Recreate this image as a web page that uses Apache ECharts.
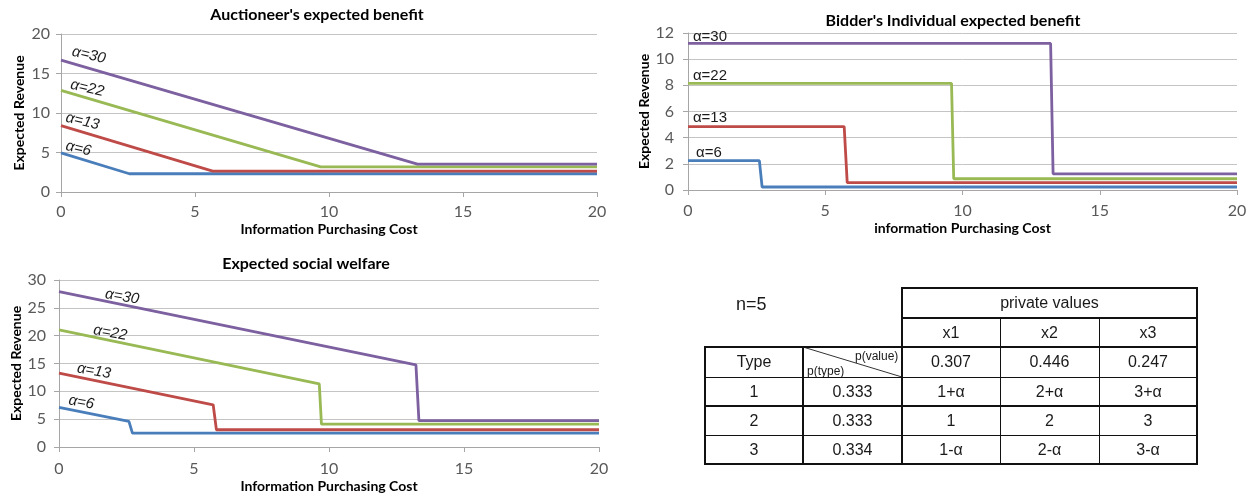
<!DOCTYPE html>
<html>
<head>
<meta charset="utf-8">
<script src="https://cdn.jsdelivr.net/npm/echarts@6/dist/echarts.min.js"></script>
<style>
html,body{margin:0;padding:0;background:#fff;}
#chart{position:absolute;left:0;top:0;width:1258px;height:496px;}
#tbl{position:absolute;left:0;top:0;width:1258px;height:496px;pointer-events:none;font-family:'Liberation Sans',Arial,sans-serif;color:#1a1a1a;}
.cell{position:absolute;display:flex;align-items:center;justify-content:center;font-size:16px;}
.hl{position:absolute;background:#111;}
</style>
</head>
<body>
<div id="chart"></div>
<div id="tbl"></div>
<script>
// ---------- data ----------
const alphaNames = ['α=6', 'α=13', 'α=22', 'α=30'];
const xTicks = [0, 5, 10, 15, 20];

// Auctioneer's expected benefit  [cost, revenue]
const aucA6  = [[0, 4.96], [2.55, 2.31], [20, 2.31]];
const aucA13 = [[0, 8.4], [5.66, 2.65], [20, 2.65]];
const aucA22 = [[0, 12.86], [9.69, 3.19], [20, 3.19]];
const aucA30 = [[0, 16.7], [13.3, 3.53], [20, 3.53]];

// Bidder's individual expected benefit
const bidA6  = [[0, 2.25], [2.6, 2.25], [2.7, 0.23], [20, 0.23]];
const bidA13 = [[0, 4.84], [5.69, 4.84], [5.8, 0.56], [20, 0.56]];
const bidA22 = [[0, 8.15], [9.6, 8.15], [9.68, 0.86], [20, 0.86]];
const bidA30 = [[0, 11.2], [13.21, 11.2], [13.3, 1.24], [20, 1.24]];

// Expected social welfare
const socA6  = [[0, 7.1], [2.59, 4.6], [2.72, 2.5], [20, 2.5]];
const socA13 = [[0, 13.27], [5.71, 7.58], [5.83, 3.1], [20, 3.1]];
const socA22 = [[0, 21.03], [9.64, 11.35], [9.72, 4.12], [20, 4.12]];
const socA30 = [[0, 27.9], [13.22, 14.75], [13.33, 4.75], [20, 4.75]];

// Table
const nLabel = 'n=5';
const pvHeader = 'private values';
const valueCols = ['x1', 'x2', 'x3'];
const pValues = ['0.307', '0.446', '0.247'];
const typeHeader = 'Type';
const types = ['1', '2', '3'];
const pTypes = ['0.333', '0.333', '0.334'];
const privateValues = [['1+α', '2+α', '3+α'], ['1', '2', '3'], ['1-α', '2-α', '3-α']];

// ---------- styles ----------
const colors = ['#4A7EBB', '#BE4B48', '#98B954', '#7D60A0'];
const tickFont = {fontFamily: 'Lato', fontSize: 16, color: '#595959'};
const nameFont = {fontFamily: 'Lato', fontWeight: 'bold', fontSize: 14, color: '#000'};
const axisGray = '#a6a6a6';

function xAxis(gi, name, gap, margin) {
  return {
    type: 'value', gridIndex: gi, min: 0, max: 20, interval: 5,
    name: name, nameLocation: 'middle', nameGap: gap, nameTextStyle: nameFont,
    axisLine: {show: true, lineStyle: {color: axisGray, width: 1}},
    axisTick: {show: true, length: 5, lineStyle: {color: axisGray}},
    axisLabel: Object.assign({margin: margin}, tickFont),
    splitLine: {show: false}
  };
}
function yAxis(gi, max, interval, gap, margin) {
  return {
    type: 'value', gridIndex: gi, min: 0, max: max, interval: interval,
    name: 'Expected Revenue', nameLocation: 'middle', nameGap: gap, nameTextStyle: nameFont,
    axisLine: {show: true, lineStyle: {color: axisGray, width: 1}},
    axisTick: {show: true, length: 5, lineStyle: {color: axisGray}},
    axisLabel: Object.assign({margin: margin}, tickFont),
    splitLine: {show: true, lineStyle: {color: '#c4c4c4', width: 1}}
  };
}
function series(data, k, gi, offset, rotate, italic) {
  return {
    type: 'line', xAxisIndex: gi, yAxisIndex: gi, data: data,
    showSymbol: false, animation: false, z: 2 + k,
    lineStyle: {color: colors[k], width: 2.8},
    itemStyle: {color: colors[k]},
    markPoint: {
      silent: true, animation: false,
      symbol: 'rect', symbolSize: 1, itemStyle: {color: 'rgba(0,0,0,0)'},
      data: [{coord: data[0]}],
      label: {
        show: true, position: 'inside', formatter: alphaNames[k],
        offset: offset, rotate: rotate,
        fontFamily: 'Liberation Sans', fontStyle: italic ? 'italic' : 'normal',
        fontSize: 15, color: '#1a1a1a'
      }
    }
  };
}

// label offsets are in the rotated label frame
const topLeftOffsets = [[16, -8], [20, -9], [25, -8], [26, -11]];
const botLeftOffsets = [[21, -9], [34, -8], [51, -6], [63, -6]];
const topRightOffsets = [[21, -8], [22, -9], [22, -8], [22, -7]];

const aucSets = [aucA6, aucA13, aucA22, aucA30];
const bidSets = [bidA6, bidA13, bidA22, bidA30];
const socSets = [socA6, socA13, socA22, socA30];

const allSeries = [];
aucSets.forEach((d, k) => allSeries.push(series(d, k, 0, topLeftOffsets[k], -13, true)));
bidSets.forEach((d, k) => allSeries.push(series(d, k, 1, topRightOffsets[k], 0, false)));
socSets.forEach((d, k) => allSeries.push(series(d, k, 2, botLeftOffsets[k], -10, true)));

const titleStyle = {fontFamily: 'Lato', fontWeight: 'bold', fontSize: 16, color: '#000'};

const option = {
  backgroundColor: '#fff',
  animation: false,
  title: [
    {text: "Auctioneer's expected benefit", left: 317, top: 7, textAlign: 'center', padding: 0, textStyle: titleStyle},
    {text: "Bidder's Individual expected benefit", left: 953, top: 13, textAlign: 'center', padding: 0, textStyle: titleStyle},
    {text: 'Expected social welfare', left: 306, top: 256, textAlign: 'center', padding: 0, textStyle: titleStyle}
  ],
  grid: [
    {left: 61, top: 34, width: 536, height: 158},
    {left: 688, top: 33, width: 549, height: 157},
    {left: 59, top: 280, width: 540, height: 167}
  ],
  xAxis: [
    xAxis(0, 'Information Purchasing Cost', 30, 12),
    xAxis(1, 'information Purchasing Cost', 31, 13),
    xAxis(2, 'Information Purchasing Cost', 32, 14)
  ],
  yAxis: [
    yAxis(0, 20, 5, 35, 11),
    yAxis(1, 12, 2, 28, 14),
    yAxis(2, 30, 5, 34, 13)
  ],
  series: allSeries
};

const chart = echarts.init(document.getElementById('chart'), null, {renderer: 'canvas'});
chart.setOption(option);

// ---------- table (HTML) ----------
const tbl = document.getElementById('tbl');
const colX = [705, 803, 902, 1000, 1099, 1197];
const rowY = [288, 318, 347, 377, 406, 435, 464];
function cell(txt, c0, c1, r, extra) {
  const d = document.createElement('div');
  d.className = 'cell';
  d.style.left = colX[c0] + 'px';
  d.style.width = (colX[c1] - colX[c0]) + 'px';
  d.style.top = rowY[r] + 'px';
  d.style.height = (rowY[r + 1] - rowY[r]) + 'px';
  if (extra) Object.assign(d.style, extra);
  d.textContent = txt;
  tbl.appendChild(d);
}
function hline(y, x0, x1, w) {
  const d = document.createElement('div'); d.className = 'hl';
  d.style.left = (x0 - 1) + 'px'; d.style.width = (x1 - x0 + 2) + 'px';
  d.style.top = (y - Math.floor(w / 2)) + 'px'; d.style.height = w + 'px';
  tbl.appendChild(d);
}
function vline(x, y0, y1, w) {
  const d = document.createElement('div'); d.className = 'hl';
  d.style.top = (y0 - 1) + 'px'; d.style.height = (y1 - y0 + 2) + 'px';
  d.style.left = (x - Math.floor(w / 2)) + 'px'; d.style.width = w + 'px';
  tbl.appendChild(d);
}
// text
const n = document.createElement('div');
n.style.cssText = 'position:absolute;left:736px;top:294px;font-size:18px;';
n.textContent = nLabel; tbl.appendChild(n);
cell(pvHeader, 2, 5, 0);
valueCols.forEach((t, i) => cell(t, 2 + i, 3 + i, 1));
cell(typeHeader, 0, 1, 2);
pValues.forEach((t, i) => cell(t, 2 + i, 3 + i, 2));
types.forEach((t, r) => {
  cell(t, 0, 1, 3 + r);
  cell(pTypes[r], 1, 2, 3 + r);
  privateValues[r].forEach((v, i) => cell(v, 2 + i, 3 + i, 3 + r));
});
// diagonal header cell
const pv = document.createElement('div');
pv.style.cssText = 'position:absolute;left:855px;top:349px;font-size:12px;';
pv.textContent = 'p(value)'; tbl.appendChild(pv);
const pt = document.createElement('div');
pt.style.cssText = 'position:absolute;left:807px;top:364px;font-size:12px;';
pt.textContent = 'p(type)'; tbl.appendChild(pt);
const svgNS = 'http://www.w3.org/2000/svg';
const svg = document.createElementNS(svgNS, 'svg');
svg.setAttribute('width', '1258'); svg.setAttribute('height', '496');
svg.style.cssText = 'position:absolute;left:0;top:0;';
const ln = document.createElementNS(svgNS, 'line');
ln.setAttribute('x1', colX[1]); ln.setAttribute('y1', rowY[2]);
ln.setAttribute('x2', colX[2]); ln.setAttribute('y2', rowY[3]);
ln.setAttribute('stroke', '#333'); ln.setAttribute('stroke-width', '1');
svg.appendChild(ln); tbl.appendChild(svg);
// grid lines
hline(rowY[0], colX[2], colX[5], 2);
hline(rowY[1], colX[2], colX[5], 2);
hline(rowY[2], colX[0], colX[5], 2);
hline(rowY[3], colX[0], colX[5], 1);
hline(rowY[4], colX[0], colX[5], 2);
hline(rowY[5], colX[0], colX[5], 1);
hline(rowY[6], colX[0], colX[5], 2);
vline(colX[0], rowY[2], rowY[6], 2);
vline(colX[1], rowY[2], rowY[6], 2);
vline(colX[2], rowY[0], rowY[6], 2);
vline(colX[3], rowY[1], rowY[6], 1);
vline(colX[4], rowY[1], rowY[6], 1);
vline(colX[5], rowY[0], rowY[6], 2);
</script>
</body>
</html>
